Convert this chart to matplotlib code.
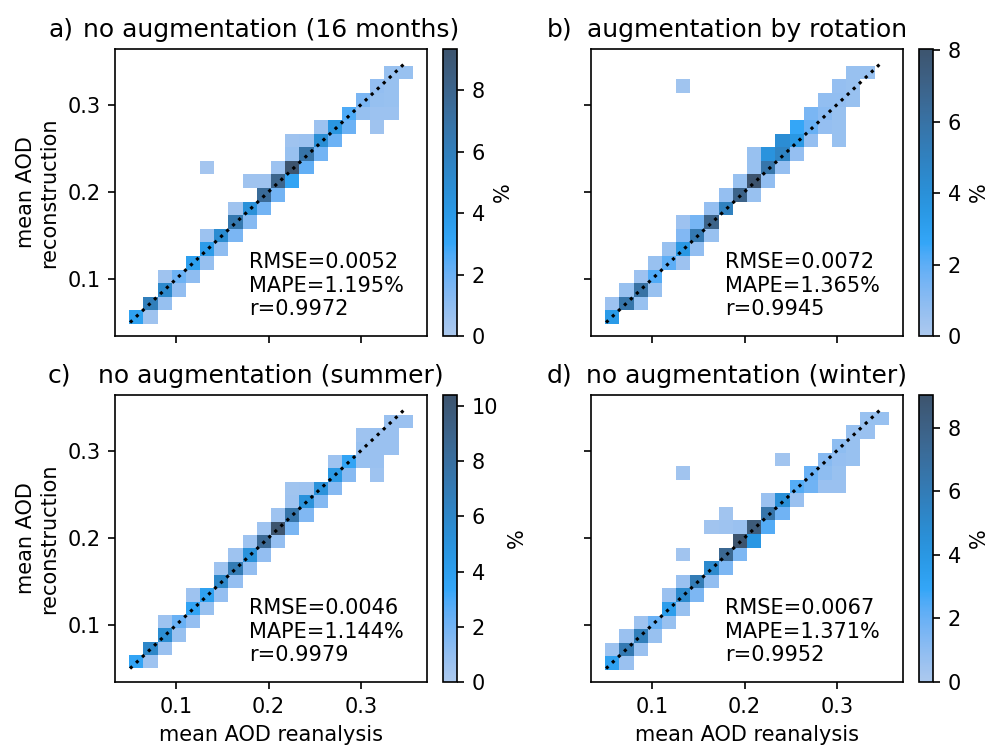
import numpy as np
import matplotlib
matplotlib.use("Agg")
import matplotlib.pyplot as plt
import seaborn as sns

# ---------------------------------------------------------------------------
# data: 2D histogram cells (x bin, y bin, percent)
# ---------------------------------------------------------------------------
letters = ["a)", "b)", "c)", "d)"]
titles = ["no augmentation (16 months)", "augmentation by rotation",
          "no augmentation (summer)", "no augmentation (winter)"]
rmse = ["0.0052", "0.0072", "0.0046", "0.0067"]
mape = ["1.195", "1.365", "1.144", "1.371"]
corr = ["0.9972", "0.9945", "0.9979", "0.9952"]

x_range = (0.0491, 0.3563)
n_xbins = 20
y_ranges = [(0.0483, 0.3448), (0.0483, 0.3448), (0.0500, 0.3412), (0.0483, 0.3448)]
n_ybins = 19
ref_line = [0.05, 0.35]

cells_a = [
    (0, 0, 3.4), (1, 0, 0.5),
    (1, 1, 6.0), (2, 1, 0.8),
    (2, 2, 5.2), (3, 2, 0.9),
    (2, 3, 0.5), (3, 3, 2.0), (4, 3, 1.0),
    (4, 4, 3.5), (5, 4, 0.8),
    (5, 5, 3.8), (6, 5, 1.0),
    (5, 6, 0.6), (6, 6, 5.0), (7, 6, 1.6),
    (7, 7, 6.5), (8, 7, 1.3),
    (7, 8, 0.5), (8, 8, 4.6), (9, 8, 1.8),
    (9, 9, 7.5), (10, 9, 1.8),
    (8, 10, 0.5), (9, 10, 0.5), (10, 10, 8.0), (11, 10, 3.2),
    (5, 11, 0.3), (10, 11, 0.6), (11, 11, 9.34), (12, 11, 2.2),
    (11, 12, 0.7), (12, 12, 6.8), (13, 12, 1.8),
    (11, 13, 0.5), (12, 13, 0.6), (13, 13, 4.8), (14, 13, 2.0),
    (13, 14, 0.6), (14, 14, 4.2), (15, 14, 2.0), (17, 14, 0.5),
    (15, 15, 2.6), (16, 15, 0.8), (17, 15, 0.6), (18, 15, 0.6),
    (16, 16, 1.6), (17, 16, 0.8), (18, 16, 0.7),
    (17, 17, 0.9), (18, 17, 0.7),
    (18, 18, 0.7), (19, 18, 0.7),
]
cells_b = [
    (0, 0, 3.3),
    (0, 1, 0.5), (1, 1, 5.8), (2, 1, 0.6),
    (1, 2, 0.6), (2, 2, 6.0), (3, 2, 0.6),
    (2, 3, 0.5), (3, 3, 2.2),
    (3, 4, 0.6), (4, 4, 2.0), (5, 4, 0.5),
    (4, 5, 0.6), (5, 5, 3.5), (6, 5, 0.8),
    (5, 6, 1.2), (6, 6, 5.5), (7, 6, 0.6),
    (5, 7, 0.5), (6, 7, 1.5), (7, 7, 7.0),
    (7, 8, 0.7), (8, 8, 5.0),
    (8, 9, 0.7), (9, 9, 7.0), (10, 9, 0.6),
    (9, 10, 0.6), (10, 10, 8.03), (11, 10, 0.8),
    (10, 11, 0.6), (11, 11, 5.8), (12, 11, 0.7),
    (10, 12, 0.6), (11, 12, 3.8), (12, 12, 4.8), (13, 12, 0.7),
    (12, 13, 4.2), (13, 13, 3.5), (14, 13, 0.7), (16, 13, 0.6),
    (13, 14, 2.6), (14, 14, 1.8), (15, 14, 0.7), (16, 14, 0.6),
    (14, 15, 1.4), (15, 15, 1.0), (16, 15, 0.6),
    (15, 16, 0.8), (16, 16, 0.8), (17, 16, 0.6),
    (16, 17, 0.7), (17, 17, 0.6),
    (17, 18, 0.6), (18, 18, 0.6),
    (5, 17, 0.4),
]
cells_c = [
    (0, 0, 3.5), (1, 0, 0.6),
    (1, 1, 6.0), (2, 1, 0.7),
    (2, 2, 5.5), (3, 2, 0.8),
    (2, 3, 0.6), (3, 3, 2.3), (4, 3, 0.9),
    (4, 4, 3.6), (5, 4, 0.8),
    (4, 5, 0.6), (5, 5, 3.8), (6, 5, 0.9),
    (6, 6, 6.0), (7, 6, 0.9),
    (6, 7, 0.6), (7, 7, 7.0), (8, 7, 1.0),
    (7, 8, 0.6), (8, 8, 5.0), (9, 8, 1.0),
    (8, 9, 0.6), (9, 9, 8.5), (10, 9, 0.9),
    (9, 10, 0.6), (10, 10, 10.4), (11, 10, 1.8),
    (10, 11, 0.6), (11, 11, 7.5), (12, 11, 1.6),
    (11, 12, 0.6), (12, 12, 5.0), (13, 12, 1.5),
    (11, 13, 0.5), (12, 13, 0.6), (13, 13, 5.0), (14, 13, 1.4),
    (14, 14, 4.5), (15, 14, 1.4),
    (14, 15, 0.6), (15, 15, 3.5), (16, 15, 0.8), (17, 15, 0.7),
    (16, 16, 0.8), (17, 16, 0.7), (18, 16, 0.7), (17, 14, 0.6),
    (16, 17, 0.6), (17, 17, 0.7), (18, 17, 0.7),
    (18, 18, 0.7), (19, 18, 0.7),
]
cells_d = [
    (0, 0, 3.3), (1, 0, 0.6),
    (0, 1, 0.5), (1, 1, 6.2), (2, 1, 0.6),
    (1, 2, 0.6), (2, 2, 5.8), (3, 2, 0.7),
    (2, 3, 0.5), (3, 3, 2.0), (4, 3, 0.7),
    (4, 4, 3.5), (5, 4, 0.7),
    (4, 5, 0.6), (5, 5, 5.0), (6, 5, 1.5),
    (5, 6, 0.6), (6, 6, 6.0), (7, 6, 0.9),
    (5, 8, 0.4), (7, 7, 5.0), (8, 7, 1.5),
    (8, 8, 7.5), (9, 8, 1.5),
    (9, 9, 9.03), (10, 9, 4.0),
    (7, 10, 0.4), (8, 10, 0.5), (9, 10, 0.6), (10, 10, 8.5), (11, 10, 2.4),
    (8, 11, 0.4), (11, 11, 6.5), (12, 11, 1.8),
    (11, 12, 0.6), (12, 12, 4.5), (13, 12, 0.6),
    (13, 13, 2.4), (14, 13, 1.8), (15, 13, 0.6), (16, 13, 0.6),
    (5, 14, 0.4), (14, 14, 2.0), (15, 14, 1.0), (16, 14, 0.7),
    (12, 15, 0.4), (15, 15, 1.2), (16, 15, 0.8), (17, 15, 0.7),
    (16, 16, 1.0), (17, 16, 0.7),
    (17, 17, 0.7), (18, 17, 0.6),
    (18, 18, 0.7), (19, 18, 0.7),
]
all_cells = [cells_a, cells_b, cells_c, cells_d]

# ---------------------------------------------------------------------------
# layout (pixel boxes on a 990 x 747 canvas)
# ---------------------------------------------------------------------------
W, H = 990, 747
fig = plt.figure(figsize=(W / 150, H / 150), dpi=150)


def px_axes(x0, y0, x1, y1):
    return fig.add_axes([x0 / W, 1 - y1 / H, (x1 - x0) / W, (y1 - y0) / H])


ax_boxes = [(115, 49, 427, 336), (591, 49, 903, 336),
            (115, 395, 427, 682), (591, 395, 903, 682)]
letter_pos = [(48, 36.5), (547, 36.5), (48, 382.5), (547, 382.5)]

for i in range(4):
    x0, y0, x1, y1 = ax_boxes[i]
    ax = px_axes(x0, y0, x1, y1)
    cax = px_axes(x1 + 16, y0, x1 + 30, y1)

    xe = np.linspace(x_range[0], x_range[1], n_xbins + 1)
    ye = np.linspace(y_ranges[i][0], y_ranges[i][1], n_ybins + 1)
    c = np.array(all_cells[i])
    ci = c[:, 0].astype(int)
    ri = c[:, 1].astype(int)
    xc = 0.5 * (xe[ci] + xe[ci + 1])
    yc = 0.5 * (ye[ri] + ye[ri + 1])

    sns.histplot(x=xc, y=yc, weights=c[:, 2], bins=(xe, ye), ax=ax,
                 cbar=True, cbar_ax=cax, cbar_kws={"label": "%"}, vmin=0)
    ax.plot(ref_line, ref_line, "k:")

    ax.text(0.43, 0.06, f"RMSE={rmse[i]}\nMAPE={mape[i]}%\nr={corr[i]}",
            transform=ax.transAxes, ha="left", va="bottom", fontsize=10)
    ax.set_title(titles[i], fontsize=12)
    fig.text(letter_pos[i][0] / W, 1 - letter_pos[i][1] / H, letters[i],
             fontsize=12, ha="left", va="baseline")

    ax.set_xlim(0.0337, 0.3717)
    ax.set_ylim(0.0345, 0.364)
    ax.set_xticks([0.1, 0.2, 0.3])
    ax.set_yticks([0.1, 0.2, 0.3])
    if i < 2:
        ax.set_xticklabels([])
    else:
        ax.set_xlabel("mean AOD reanalysis")
    if i % 2 == 1:
        ax.set_yticklabels([])
    else:
        ax.set_ylabel("mean AOD\nreconstruction")

fig.savefig("out.png", dpi=150)
